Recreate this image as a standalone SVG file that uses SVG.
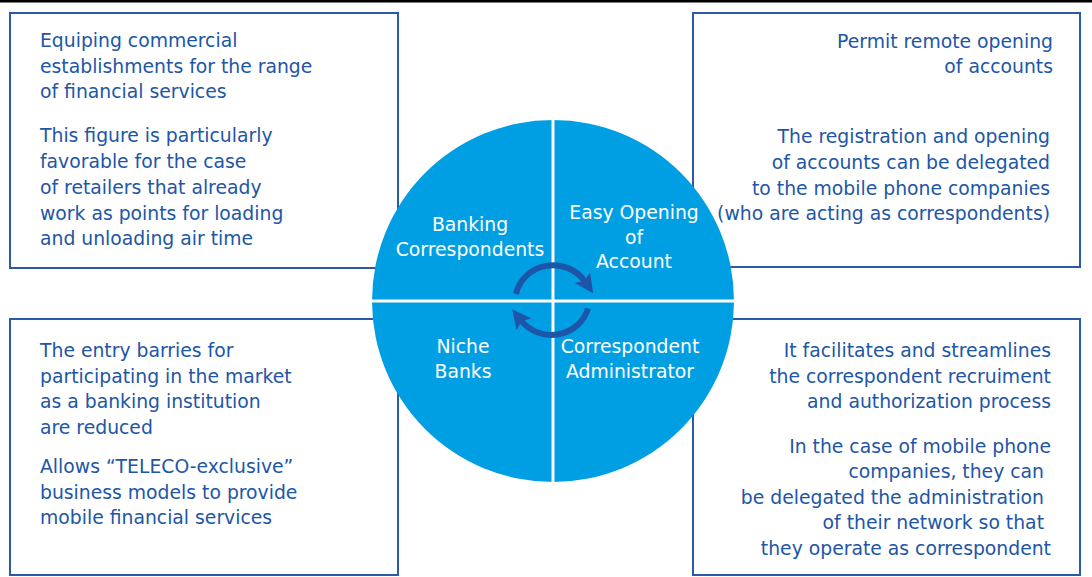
<svg xmlns="http://www.w3.org/2000/svg" width="1092" height="577" viewBox="0 0 1092 577">
<style>
.box{fill:#fff;stroke:#2A5AA8;stroke-width:2}
.t{font-family:"DejaVu Sans","Open Sans",sans-serif;font-size:18.8px;fill:#2156A6}
.r{text-anchor:end}
.w{font-family:"DejaVu Sans","Open Sans",sans-serif;font-size:18.8px;fill:#fff;text-anchor:middle}
.arc{fill:none;stroke:#1D56A8;stroke-width:6}
</style>
<defs>
<marker id="ah" viewBox="0 0 10 10" refX="2.5" refY="5" markerWidth="19" markerHeight="19" orient="auto" markerUnits="userSpaceOnUse">
<path d="M0,0 L10,5 L0,10 L2,5 Z" fill="#1D56A8"/>
</marker>
</defs>
<rect x="0" y="0" width="1092" height="2.5" fill="#000"/>
<g id="box-tl">
<rect class="box" x="10" y="13" width="388" height="255"/>
<text class="t" x="40" y="47">Equiping commercial</text>
<text class="t" x="40" y="72.5">establishments for the range</text>
<text class="t" x="40" y="98">of financial services</text>
<text class="t" x="40" y="142">This figure is particularly</text>
<text class="t" x="40" y="168">favorable for the case</text>
<text class="t" x="40" y="193.5">of retailers that already</text>
<text class="t" x="40" y="219.5">work as points for loading</text>
<text class="t" x="40" y="245">and unloading air time</text>
</g>
<g id="box-tr">
<rect class="box" x="693" y="13" width="387" height="254"/>
<text class="t r" x="1053" y="48">Permit remote opening</text>
<text class="t r" x="1053" y="73">of accounts</text>
<text class="t r" x="1050" y="143">The registration and opening</text>
<text class="t r" x="1050" y="168.5">of accounts can be delegated</text>
<text class="t r" x="1050" y="194.5">to the mobile phone companies</text>
<text class="t r" x="1050" y="220">(who are acting as correspondents)</text>
</g>
<g id="box-bl">
<rect class="box" x="10" y="319" width="388" height="256"/>
<text class="t" x="40" y="357">The entry barries for</text>
<text class="t" x="40" y="382.5">participating in the market</text>
<text class="t" x="40" y="408">as a banking institution</text>
<text class="t" x="40" y="433.5">are reduced</text>
<text class="t" x="40" y="473">Allows “TELECO-exclusive”</text>
<text class="t" x="40" y="498.5">business models to provide</text>
<text class="t" x="40" y="524">mobile financial services</text>
</g>
<g id="box-br">
<rect class="box" x="693" y="319" width="387" height="256"/>
<text class="t r" x="1051" y="357">It facilitates and streamlines</text>
<text class="t r" x="1051" y="382.5">the correspondent recruiment</text>
<text class="t r" x="1051" y="408">and authorization process</text>
<text class="t r" x="1051" y="452.5">In the case of mobile phone</text>
<text class="t r" x="1044" y="478">companies, they can</text>
<text class="t r" x="1044" y="503.5">be delegated the administration</text>
<text class="t r" x="1044" y="529">of their network so that</text>
<text class="t r" x="1051" y="554.5">they operate as correspondent</text>
</g>
<g id="circle">
<circle cx="553" cy="301" r="181" fill="#009FE3"/>
<line x1="553" y1="120" x2="553" y2="482" stroke="#fff" stroke-width="3"/>
<line x1="372" y1="301" x2="734" y2="301" stroke="#fff" stroke-width="3"/>
</g>
<g id="q-banking">
<text class="w" x="470" y="231">Banking</text>
<text class="w" x="470" y="256">Correspondents</text>
</g>
<g id="q-easy">
<text class="w" x="634" y="219">Easy Opening</text>
<text class="w" x="634" y="243.5">of</text>
<text class="w" x="634" y="268">Account</text>
</g>
<g id="q-niche">
<text class="w" x="463" y="353">Niche</text>
<text class="w" x="463" y="378">Banks</text>
</g>
<g id="q-admin">
<text class="w" x="630" y="353">Correspondent</text>
<text class="w" x="630" y="378">Administrator</text>
</g>
<g id="connectors">
<path class="arc" d="M516,294 A38,36 0 0 1 585,281.5" marker-end="url(#ah)"/>
<path class="arc" d="M588,308.5 A38,36 0 0 1 521,320.5" marker-end="url(#ah)"/>
</g>
</svg>
